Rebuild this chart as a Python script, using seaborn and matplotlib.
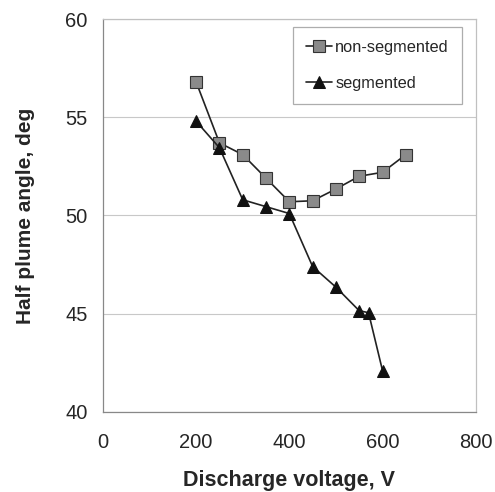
import matplotlib.pyplot as plt
import seaborn as sns
import pandas as pd

# values
volt_nonseg = [200, 250, 300, 350, 400, 450, 500, 550, 600, 650]
angle_nonseg = [56.8, 53.7, 53.1, 51.9, 50.7, 50.75, 51.35, 52.0, 52.2, 53.1]

volt_seg = [200, 250, 300, 350, 400, 450, 500, 550, 570, 600]
angle_seg = [54.8, 53.45, 50.8, 50.45, 50.1, 47.4, 46.35, 45.15, 45.05, 42.1]

x_ticks = [0, 200, 400, 600, 800]
y_ticks = [40, 45, 50, 55, 60]

sns.set_style('white')
plt.rcParams['font.family'] = ['Liberation Sans', 'DejaVu Sans']

df_ns = pd.DataFrame({'V': volt_nonseg, 'angle': angle_nonseg})
df_s = pd.DataFrame({'V': volt_seg, 'angle': angle_seg})

fig = plt.figure(figsize=(4.95, 4.92), dpi=100)
ax = fig.add_axes([0.208, 0.163, 0.753, 0.798])

sns.lineplot(data=df_ns, x='V', y='angle', ax=ax, color='#222222', lw=1.2,
             marker='s', markersize=8, markerfacecolor='#8a8a8a',
             markeredgecolor='#333333', markeredgewidth=0.8,
             label='non-segmented')
sns.lineplot(data=df_s, x='V', y='angle', ax=ax, color='#222222', lw=1.2,
             marker='^', markersize=8, markerfacecolor='#111111',
             markeredgecolor='#111111', label='segmented')

ax.set_xlim(0, 800)
ax.set_ylim(40, 60)
ax.set_xticks(x_ticks)
ax.set_yticks(y_ticks)
ax.yaxis.grid(True, color='#c8c8c8', lw=0.8)
ax.tick_params(labelsize=14.5, length=5, width=0.8, color='#888888',
               direction='out', pad=6)
ax.tick_params(axis='x', pad=10)

for s in ['top', 'right']:
    ax.spines[s].set_color('#c0c0c0')
for s in ['left', 'bottom']:
    ax.spines[s].set_color('#888888')
for s in ax.spines.values():
    s.set_linewidth(0.9)

ax.set_xlabel('Discharge voltage, V', fontsize=15.5, fontweight='bold', labelpad=13)
ax.set_ylabel('Half plume angle, deg', fontsize=15, fontweight='bold', labelpad=22)

leg = ax.legend(loc='upper right', bbox_to_anchor=(0.963, 0.98), fontsize=11.8,
                frameon=True, fancybox=False, borderpad=0.8, labelspacing=1.25,
                handlelength=1.6, handletextpad=0.2, borderaxespad=0)
leg.get_frame().set_edgecolor('#999999')
leg.get_frame().set_linewidth(0.9)

fig.savefig('out.png', dpi=100)
